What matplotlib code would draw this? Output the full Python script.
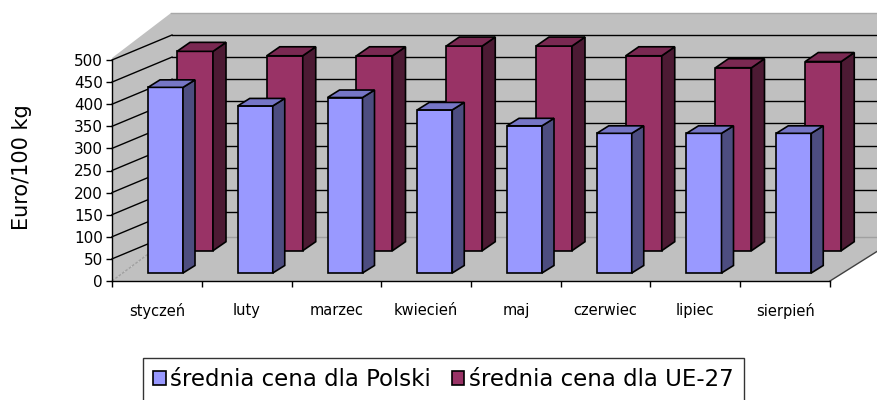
import matplotlib
matplotlib.use("Agg")
import matplotlib.pyplot as plt
from matplotlib.patches import Polygon, Patch
import numpy as np

plt.rcParams["font.family"] = ["DejaVu Sans"]

# data
months = ["styczeń", "luty", "marzec", "kwiecień", "maj", "czerwiec", "lipiec", "sierpień"]
poland = [420, 378, 397, 369, 333, 316, 316, 316]
eu27 = [451, 441, 441, 463, 463, 441, 414, 428]
series_names = ["średnia cena dla Polski", "średnia cena dla UE-27"]
y_ticks = list(range(0, 501, 50))

# figure geometry (pixels) for the fake 3d look
W, H = 877, 400
X0, Y0 = 112, 281          # front corner of the floor
PX_CAT = 89.75             # px per category
PX_VAL = 0.442             # px per value unit


def dx(px):
    return px / PX_CAT


def dv(px):
    return px / PX_VAL


def poly(ax, pts, fc, ec="black", lw=1.2, z=1, **kw):
    ax.add_patch(Polygon(pts, closed=True, facecolor=fc, edgecolor=ec,
                         linewidth=lw, zorder=z, clip_on=False, **kw))


def bar3d(ax, x, base, h, w, ddx, ddv, colors, z):
    front, side, top = colors
    poly(ax, [(x, base), (x + w, base), (x + w, base + h), (x, base + h)], front, z=z)
    poly(ax, [(x + w, base), (x + w + ddx, base + ddv),
              (x + w + ddx, base + h + ddv), (x + w, base + h)], side, z=z)
    poly(ax, [(x, base + h), (x + w, base + h),
              (x + w + ddx, base + h + ddv), (x + ddx, base + h + ddv)], top, z=z)


fig = plt.figure(figsize=(W / 100, H / 100), dpi=100)
ax = fig.add_axes([X0 / W, (H - Y0) / H, 8 * PX_CAT / W, 500 * PX_VAL / H])
ax.set_xlim(0, 8)
ax.set_ylim(0, 500)
ax.patch.set_visible(False)

wall = "#C0C0C0"
back_x = dx(59)
right_x = dx(W - X0 + 20)
floor_v = dv(44)
top_front, top_back = dv(223), dv(268)
grid_dx, grid_dv = dx(60), dv(25)

# walls and floor
poly(ax, [(0, 0), (0, top_front), (back_x, top_back), (back_x, floor_v)], wall, ec="none", z=0.1)
poly(ax, [(back_x, floor_v), (back_x, top_back), (right_x, top_back), (right_x, floor_v)],
     wall, ec="none", z=0.1)
poly(ax, [(0, 0), (8, 0), (8 + dx(70), floor_v), (back_x, floor_v)], wall, ec="none", z=0.1)
ax.plot([back_x, right_x], [top_back, top_back], color="#A8A8A8", lw=1, zorder=0.3, clip_on=False)
ax.plot([back_x, right_x], [floor_v, floor_v], color="#A0A0A0", lw=1, zorder=0.3, clip_on=False)
ax.plot([0, back_x], [0, floor_v], color="#A0A0A0", lw=1, ls=(0, (2, 1)), zorder=0.3, clip_on=False)
ax.plot([8, 8 + dx(70)], [0, floor_v], color="#404040", lw=1, zorder=0.3, clip_on=False)

# gridlines on back wall + diagonals on side wall
for v in y_ticks[1:]:
    if v >= 100:
        ax.plot([grid_dx, right_x], [v + grid_dv, v + grid_dv], color="black", lw=1,
                zorder=0.4, clip_on=False)
    ax.plot([0, grid_dx], [v, v + grid_dv], color="black", lw=1, zorder=0.4, clip_on=False)

# bars: back row (EU-27) first, then front row (Poland)
red_cols = ("#993366", "#4C1A33", "#7A2952")
blue_cols = ("#9999FF", "#4D4D80", "#7676C6")
for i, v in enumerate(eu27):
    bar3d(ax, i + dx(65), dv(30.3), v, dx(36), dx(13), dv(9), red_cols, z=2)
for i, v in enumerate(poland):
    bar3d(ax, i + dx(36), dv(8), v, dx(35), dx(12), dv(7.5), blue_cols, z=3)

# axes
for s in ["top", "right"]:
    ax.spines[s].set_visible(False)
for s in ["left", "bottom"]:
    ax.spines[s].set_color("black")
    ax.spines[s].set_linewidth(1)
ax.set_yticks(y_ticks)
ax.tick_params(axis="y", direction="out", length=4.5, width=1, pad=2, labelsize=11)
ax.set_xticks(range(9))
ax.set_xticklabels([])
ax.set_xticks(np.arange(8) + 0.5, minor=True)
ax.set_xticklabels(months, minor=True)
ax.tick_params(axis="x", which="major", direction="out", length=4.5, width=1)
ax.tick_params(axis="x", which="minor", length=0, pad=15.5, labelsize=10.5)

fig.text(21.7 / W, 1 - 167 / H, "Euro/100 kg", rotation=90, ha="center", va="center", fontsize=15)

handles = [Patch(facecolor=blue_cols[0], edgecolor="black", linewidth=1.2),
           Patch(facecolor=red_cols[0], edgecolor="black", linewidth=1.2)]
leg = fig.legend(handles, series_names, loc="upper left", ncol=2,
                 bbox_to_anchor=(143 / W, 1 - 358 / H),
                 borderaxespad=0, fontsize=16.5, frameon=True, fancybox=False,
                 handlelength=0.55, handleheight=0.55, handletextpad=0.2,
                 borderpad=0.45, columnspacing=0.9)
leg.get_frame().set_edgecolor("black")
leg.get_frame().set_linewidth(1)

fig.savefig("out.png", dpi=100, facecolor="white")
